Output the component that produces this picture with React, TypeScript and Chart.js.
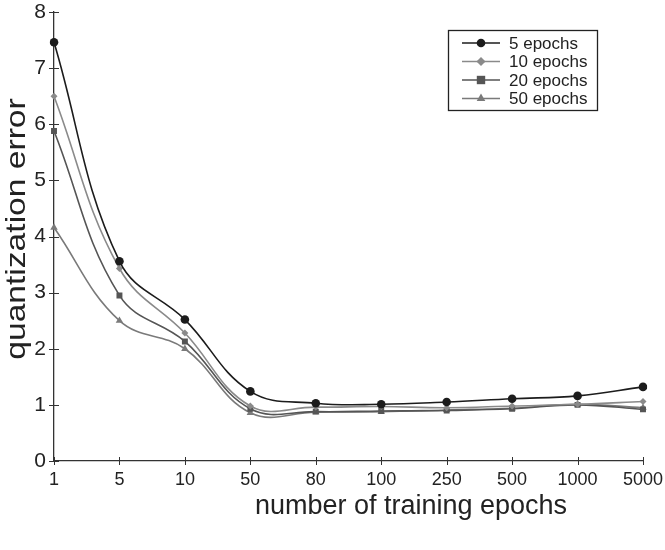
import { useEffect, useRef } from "react";
import { Chart, registerables } from "chart.js";

Chart.register(...registerables);

// Number of training epochs (categorical x positions)
const epochLabels = ["1", "5", "10", "50", "80", "100", "250", "500", "1000", "5000"];

// Quantization error for each schedule
const err5 = [7.46, 3.56, 2.52, 1.24, 1.03, 1.01, 1.05, 1.11, 1.16, 1.32];
const err10 = [6.5, 3.43, 2.28, 0.98, 0.96, 0.97, 0.95, 0.98, 1.01, 1.06];
const err20 = [5.88, 2.95, 2.13, 0.93, 0.88, 0.89, 0.9, 0.93, 1.0, 0.92];
const err50 = [4.16, 2.5, 2.0, 0.86, 0.87, 0.88, 0.91, 0.94, 1.01, 0.95];

const seriesNames = ["5 epochs", "10 epochs", "20 epochs", "50 epochs"];
const yTicks = [0, 1, 2, 3, 4, 5, 6, 7, 8];
const xTitle = "number of training epochs";
const yTitle = "quantization error";

const FONT = "'Liberation Sans', Arial, sans-serif";
const TEXT = "#222";
const AXIS = "#333";

function marker(ctx: CanvasRenderingContext2D, style: string, x: number, y: number, r: number) {
  ctx.beginPath();
  if (style === "circle") {
    ctx.arc(x, y, r, 0, Math.PI * 2);
  } else if (style === "rect") {
    ctx.rect(x - r, y - r, r * 2, r * 2);
  } else if (style === "rectRot") {
    ctx.moveTo(x, y - r * 1.3);
    ctx.lineTo(x + r * 1.3, y);
    ctx.lineTo(x, y + r * 1.3);
    ctx.lineTo(x - r * 1.3, y);
    ctx.closePath();
  } else {
    ctx.moveTo(x, y - r * 1.15);
    ctx.lineTo(x + r, y + r * 0.6);
    ctx.lineTo(x - r, y + r * 0.6);
    ctx.closePath();
  }
  ctx.fill();
}

// Tick marks that cross both axis lines, plus the two axis titles
const axisDecor = {
  id: "axisDecor",
  afterDraw(chart: any) {
    const { ctx, chartArea, scales } = chart;
    ctx.save();
    ctx.strokeStyle = AXIS;
    ctx.lineWidth = 1;
    yTicks.forEach((v) => {
      const py = Math.round(scales.y.getPixelForValue(v)) + 0.5;
      ctx.beginPath();
      ctx.moveTo(chartArea.left - 5, py);
      ctx.lineTo(chartArea.left + 5, py);
      ctx.stroke();
    });
    epochLabels.forEach((_, i) => {
      const px = Math.round(scales.x.getPixelForValue(i)) + 0.5;
      ctx.beginPath();
      ctx.moveTo(px, chartArea.bottom - 4);
      ctx.lineTo(px, chartArea.bottom + 4);
      ctx.stroke();
    });

    ctx.fillStyle = TEXT;
    ctx.textAlign = "center";
    ctx.textBaseline = "middle";
    ctx.font = `27px ${FONT}`;
    ctx.fillText(xTitle, 411, 507);

    // y title: rotated, slightly stretched along its length
    ctx.translate(17, 229);
    ctx.rotate(-Math.PI / 2);
    ctx.scale(1.2, 1);
    ctx.font = `28px ${FONT}`;
    ctx.fillText(yTitle, 0, 0);
    ctx.restore();
  },
};

// Boxed legend with line-and-marker samples
const boxedLegend = {
  id: "boxedLegend",
  afterDraw(chart: any) {
    const { ctx } = chart;
    const left = 448;
    const top = 30;
    const w = 149;
    const h = 80;
    ctx.save();
    ctx.fillStyle = "#fff";
    ctx.fillRect(left, top, w, h);
    ctx.strokeStyle = "#222";
    ctx.lineWidth = 1.3;
    ctx.strokeRect(left + 0.5, top + 0.5, w, h);
    ctx.font = `17px ${FONT}`;
    ctx.textBaseline = "middle";
    ctx.textAlign = "left";
    chart.data.datasets.forEach((ds: any, i: number) => {
      const cy = top + 13 + i * 18.5;
      const x0 = left + 14;
      const x1 = left + 52;
      ctx.strokeStyle = ds.borderColor;
      ctx.lineWidth = ds.borderWidth;
      ctx.beginPath();
      ctx.moveTo(x0, cy);
      ctx.lineTo(x1, cy);
      ctx.stroke();
      ctx.fillStyle = ds.pointBackgroundColor;
      marker(ctx, ds.pointStyle, (x0 + x1) / 2, cy, ds.pointRadius);
      ctx.fillStyle = TEXT;
      ctx.fillText(ds.label, x1 + 9, cy + 1);
    });
    ctx.restore();
  },
};

function makeSet(label: string, data: number[], color: string, style: string, r: number) {
  return {
    label,
    data,
    borderColor: color,
    backgroundColor: color,
    pointBackgroundColor: color,
    pointBorderColor: color,
    pointBorderWidth: 0,
    pointStyle: style,
    pointRadius: r,
    borderWidth: 1.6,
    tension: 0.4,
    fill: false,
  };
}

export default function App() {
  const ref = useRef<HTMLCanvasElement | null>(null);

  useEffect(() => {
    if (!ref.current) return;
    const chart = new Chart(ref.current, {
      type: "line",
      data: {
        labels: epochLabels,
        datasets: [
          makeSet(seriesNames[0], err5, "#1c1c1c", "circle", 4.3),
          makeSet(seriesNames[1], err10, "#8a8a8a", "rectRot", 3.5),
          makeSet(seriesNames[2], err20, "#555555", "rect", 4.2),
          makeSet(seriesNames[3], err50, "#7a7a7a", "triangle", 4.3),
        ],
      },
      options: {
        animation: false,
        responsive: false,
        maintainAspectRatio: false,
        layout: { padding: { top: 12, right: 22, left: 0, bottom: 0 } },
        plugins: {
          legend: { display: false },
          tooltip: { enabled: false },
        },
        scales: {
          x: {
            offset: false,
            grid: { display: false, drawTicks: false },
            border: { display: true, color: AXIS, width: 1.3 },
            ticks: {
              color: TEXT,
              font: { family: FONT, size: 18 },
              padding: 8,
              maxRotation: 0,
              autoSkip: false,
            },
            afterFit(scale: any) {
              scale.height = 89;
              scale.paddingLeft = 0;
              scale.paddingRight = 0;
            },
          },
          y: {
            min: 0,
            max: 8,
            grid: { display: false, drawTicks: false },
            border: { display: true, color: AXIS, width: 1.3 },
            ticks: {
              stepSize: 1,
              color: TEXT,
              font: { family: FONT, size: 21 },
              padding: 8,
            },
            afterFit(scale: any) {
              scale.width = 54;
              scale.paddingTop = 0;
              scale.paddingBottom = 0;
            },
          },
        },
      },
      plugins: [axisDecor, boxedLegend],
    });
    return () => chart.destroy();
  }, []);

  return (
    <div style={{ position: "absolute", left: 0, top: 0, width: 665, height: 550, background: "#fff" }}>
      <canvas ref={ref} width={665} height={550} />
    </div>
  );
}
